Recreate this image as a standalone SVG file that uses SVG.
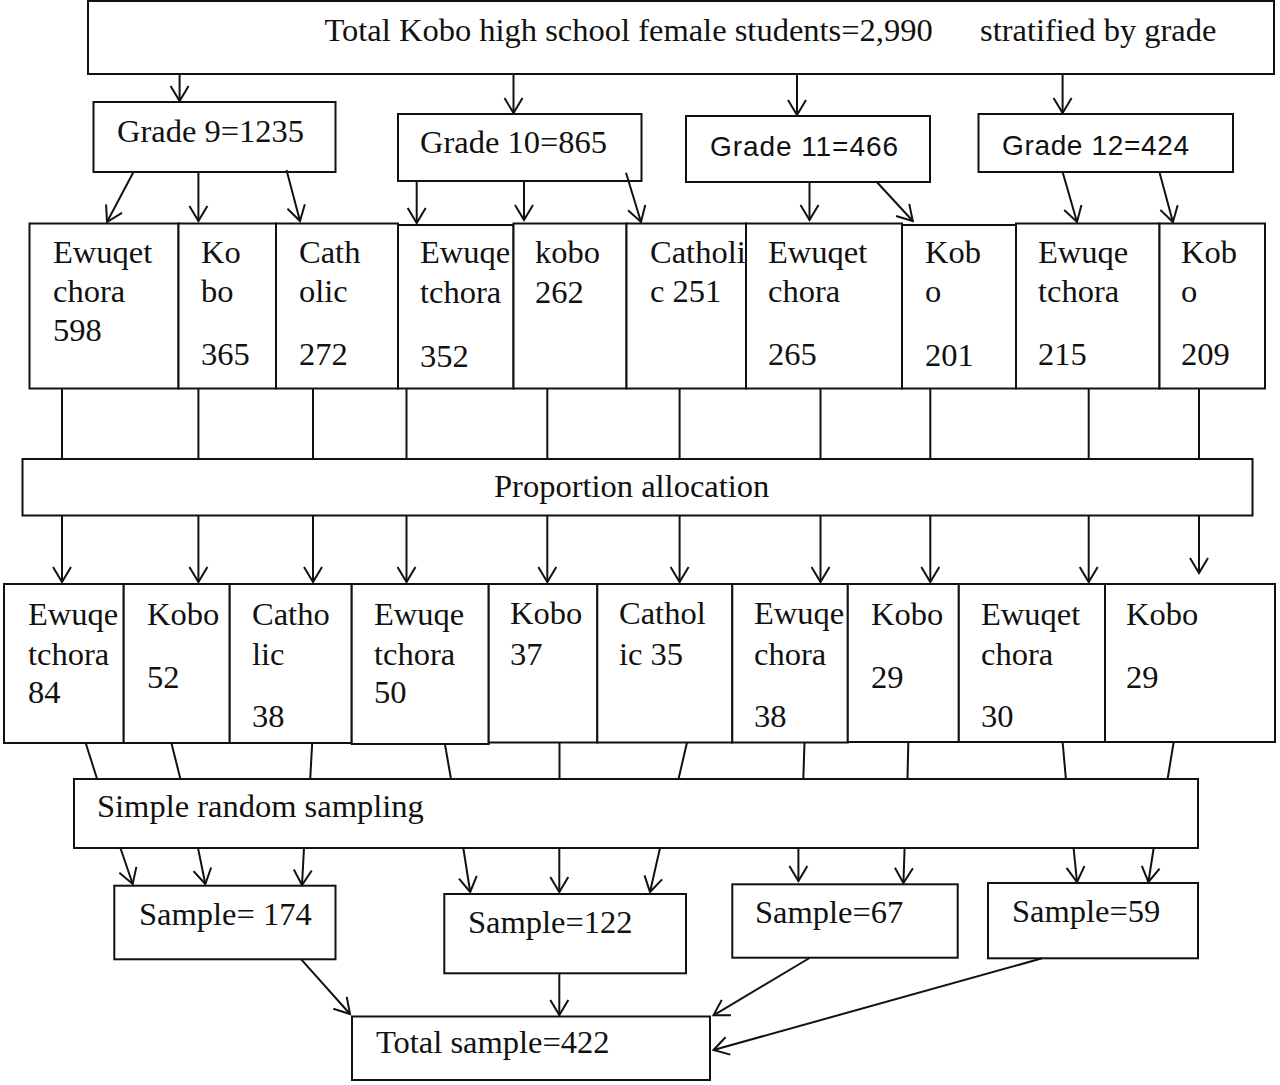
<svg xmlns="http://www.w3.org/2000/svg" width="1280" height="1085" viewBox="0 0 1280 1085">
<style>
.b{fill:#fff;stroke:#111;stroke-width:2}
.t{font-family:"Liberation Serif","Times New Roman",serif;font-size:32.5px;fill:#111}
.s{font-family:"Liberation Sans",Arial,sans-serif;font-size:28px;fill:#111}
.c line{stroke:#111;stroke-width:2;fill:none}
.a{marker-end:url(#ah)}
</style>
<defs>
<marker id="ah" viewBox="-2 -2 20 22" refX="15" refY="9" markerWidth="20" markerHeight="22" markerUnits="userSpaceOnUse" orient="auto">
<path d="M0,0 L15,9 L0,18" fill="none" stroke="#111" stroke-width="2"/>
</marker>
</defs>
<rect width="1280" height="1085" fill="#fff"/>

<g id="top"><rect class="b" x="88" y="1" width="1186" height="73"/>
<text class="t" y="41"><tspan x="324.5">Total Kobo high school female students=2,990</tspan><tspan x="980">stratified by grade</tspan></text></g>

<g id="g9"><rect class="b" x="93.5" y="102" width="242" height="70"/><text class="t" x="117" y="142">Grade 9=1235</text></g>
<g id="g10"><rect class="b" x="398" y="114" width="243.5" height="67"/><text class="t" x="420" y="153">Grade 10=865</text></g>
<g id="g11"><rect class="b" x="686" y="116" width="244" height="66"/><text class="s" x="710" y="156" textLength="188" lengthAdjust="spacing">Grade 11=466</text></g>
<g id="g12"><rect class="b" x="978.5" y="114" width="254.5" height="58"/><text class="s" x="1002" y="155" textLength="187" lengthAdjust="spacing">Grade 12=424</text></g>

<g id="s1"><rect class="b" x="29.5" y="223.5" width="149" height="165"/><text class="t"><tspan x="53" y="263">Ewuqet</tspan><tspan x="53" y="302">chora</tspan><tspan x="53" y="341">598</tspan></text></g>
<g id="s2"><rect class="b" x="178.5" y="223.5" width="97.5" height="165"/><text class="t"><tspan x="201" y="263">Ko</tspan><tspan x="201" y="302">bo</tspan><tspan x="201" y="365">365</tspan></text></g>
<g id="s3"><rect class="b" x="276" y="223.5" width="122" height="165"/><text class="t"><tspan x="299" y="263">Cath</tspan><tspan x="299" y="302">olic</tspan><tspan x="299" y="365">272</tspan></text></g>
<g id="s4"><rect class="b" x="398" y="225" width="115.5" height="163.5"/><text class="t"><tspan x="420" y="263">Ewuqe</tspan><tspan x="420" y="303">tchora</tspan><tspan x="420" y="367">352</tspan></text></g>
<g id="s5"><rect class="b" x="513.5" y="223.5" width="113" height="165"/><text class="t"><tspan x="535" y="263">kobo</tspan><tspan x="535" y="303">262</tspan></text></g>
<g id="s6"><rect class="b" x="626.5" y="223.5" width="119.5" height="165"/><text class="t"><tspan x="650" y="263">Catholi</tspan><tspan x="650" y="302">c 251</tspan></text></g>
<g id="s7"><rect class="b" x="746" y="223.5" width="156" height="165"/><text class="t"><tspan x="768" y="263">Ewuqet</tspan><tspan x="768" y="302">chora</tspan><tspan x="768" y="365">265</tspan></text></g>
<g id="s8"><rect class="b" x="902" y="225" width="114" height="163.5"/><text class="t"><tspan x="925" y="263">Kob</tspan><tspan x="925" y="302">o</tspan><tspan x="925" y="366">201</tspan></text></g>
<g id="s9"><rect class="b" x="1016" y="223.5" width="143.5" height="165"/><text class="t"><tspan x="1038" y="263">Ewuqe</tspan><tspan x="1038" y="302">tchora</tspan><tspan x="1038" y="365">215</tspan></text></g>
<g id="s10"><rect class="b" x="1159.5" y="223.5" width="105.5" height="165"/><text class="t"><tspan x="1181" y="263">Kob</tspan><tspan x="1181" y="302">o</tspan><tspan x="1181" y="365">209</tspan></text></g>

<g id="prop"><rect class="b" x="22.5" y="459" width="1230" height="56.5"/><text class="t" x="494" y="497">Proportion allocation</text></g>

<g id="p1"><rect class="b" x="4" y="584" width="119.7" height="159"/><text class="t"><tspan x="28" y="625">Ewuqe</tspan><tspan x="28" y="665">tchora</tspan><tspan x="28" y="703">84</tspan></text></g>
<g id="p2"><rect class="b" x="123.7" y="584" width="106" height="159"/><text class="t"><tspan x="147" y="625">Kobo</tspan><tspan x="147" y="688">52</tspan></text></g>
<g id="p3"><rect class="b" x="229.7" y="584" width="122" height="159"/><text class="t"><tspan x="252" y="625">Catho</tspan><tspan x="252" y="665">lic</tspan><tspan x="252" y="727">38</tspan></text></g>
<g id="p4"><rect class="b" x="351.7" y="584" width="137" height="160"/><text class="t"><tspan x="374" y="625">Ewuqe</tspan><tspan x="374" y="665">tchora</tspan><tspan x="374" y="703">50</tspan></text></g>
<g id="p5"><rect class="b" x="488.7" y="584" width="108.6" height="158.5"/><text class="t"><tspan x="510" y="624">Kobo</tspan><tspan x="510" y="665">37</tspan></text></g>
<g id="p6"><rect class="b" x="597.3" y="584" width="135" height="158.5"/><text class="t"><tspan x="619" y="624">Cathol</tspan><tspan x="619" y="665">ic 35</tspan></text></g>
<g id="p7"><rect class="b" x="732.3" y="584" width="115.5" height="158.5"/><text class="t"><tspan x="754" y="624">Ewuqe</tspan><tspan x="754" y="665">chora</tspan><tspan x="754" y="727">38</tspan></text></g>
<g id="p8"><rect class="b" x="847.8" y="584" width="111" height="158"/><text class="t"><tspan x="871" y="625">Kobo</tspan><tspan x="871" y="688">29</tspan></text></g>
<g id="p9"><rect class="b" x="958.8" y="584" width="146.2" height="158"/><text class="t"><tspan x="981" y="625">Ewuqet</tspan><tspan x="981" y="665">chora</tspan><tspan x="981" y="727">30</tspan></text></g>
<g id="p10"><rect class="b" x="1105" y="584" width="170" height="158"/><text class="t"><tspan x="1126" y="625">Kobo</tspan><tspan x="1126" y="688">29</tspan></text></g>

<g id="srs"><rect class="b" x="74" y="779" width="1124" height="69"/><text class="t" x="97" y="817">Simple random sampling</text></g>

<g id="sm1"><rect class="b" x="114.3" y="885.7" width="221.2" height="73.6"/><text class="t" x="139" y="925">Sample= 174</text></g>
<g id="sm2"><rect class="b" x="444.3" y="894" width="241.7" height="79.3"/><text class="t" x="468" y="933">Sample=122</text></g>
<g id="sm3"><rect class="b" x="732.3" y="884.3" width="225.4" height="73.4"/><text class="t" x="755" y="923">Sample=67</text></g>
<g id="sm4"><rect class="b" x="988" y="883" width="210" height="75.3"/><text class="t" x="1012" y="922">Sample=59</text></g>

<g id="total"><rect class="b" x="352" y="1016.5" width="358" height="63.5"/><text class="t" x="376" y="1053">Total sample=422</text></g>

<g id="connectors" class="c">
<line class="a" x1="179.6" y1="74" x2="179.6" y2="101"/>
<line class="a" x1="513.5" y1="74" x2="513.5" y2="113"/>
<line class="a" x1="797" y1="74" x2="797" y2="115"/>
<line class="a" x1="1062.6" y1="74" x2="1062.6" y2="113"/>

<line class="a" x1="133.5" y1="172" x2="107" y2="222"/>
<line class="a" x1="198.4" y1="172" x2="198.4" y2="221"/>
<line class="a" x1="286.5" y1="170" x2="300" y2="221"/>
<line class="a" x1="416.7" y1="181" x2="416.7" y2="223"/>
<line class="a" x1="524" y1="181" x2="524" y2="220"/>
<line class="a" x1="626" y1="172.7" x2="641" y2="222"/>
<line class="a" x1="809.5" y1="182" x2="809.5" y2="220"/>
<line class="a" x1="876.8" y1="182" x2="912.8" y2="221"/>
<line class="a" x1="1062.6" y1="172" x2="1077" y2="222"/>
<line class="a" x1="1159.4" y1="172" x2="1172.9" y2="222"/>

<line x1="62" y1="388.5" x2="62" y2="459"/>
<line x1="198.4" y1="388.5" x2="198.4" y2="459"/>
<line x1="313" y1="388.5" x2="313" y2="459"/>
<line x1="406.5" y1="388.5" x2="406.5" y2="459"/>
<line x1="547.3" y1="388.5" x2="547.3" y2="459"/>
<line x1="679.6" y1="388.5" x2="679.6" y2="459"/>
<line x1="820.5" y1="388.5" x2="820.5" y2="459"/>
<line x1="930.3" y1="388.5" x2="930.3" y2="459"/>
<line x1="1088.7" y1="388.5" x2="1088.7" y2="459"/>
<line x1="1199" y1="388.5" x2="1199" y2="459"/>

<line class="a" x1="62" y1="515.5" x2="62" y2="582"/>
<line class="a" x1="198.4" y1="515.5" x2="198.4" y2="582"/>
<line class="a" x1="313" y1="515.5" x2="313" y2="582"/>
<line class="a" x1="406.5" y1="515.5" x2="406.5" y2="582"/>
<line class="a" x1="547.3" y1="515.5" x2="547.3" y2="582"/>
<line class="a" x1="679.6" y1="515.5" x2="679.6" y2="582"/>
<line class="a" x1="820.5" y1="515.5" x2="820.5" y2="582"/>
<line class="a" x1="930.3" y1="515.5" x2="930.3" y2="582"/>
<line class="a" x1="1088.7" y1="515.5" x2="1088.7" y2="582"/>
<line class="a" x1="1199" y1="515.5" x2="1199" y2="573"/>

<line x1="85.7" y1="743" x2="97.1" y2="779"/>
<line x1="171.4" y1="743" x2="180.4" y2="779"/>
<line x1="312.2" y1="743" x2="310.2" y2="779"/>
<line x1="444.9" y1="744" x2="451" y2="779"/>
<line x1="559.5" y1="742.5" x2="559.5" y2="779"/>
<line x1="687" y1="742.5" x2="678.5" y2="779"/>
<line x1="804.5" y1="742.5" x2="803.3" y2="779"/>
<line x1="908.3" y1="742" x2="907.5" y2="779"/>
<line x1="1062.6" y1="742" x2="1065.9" y2="779"/>
<line x1="1173.7" y1="742" x2="1167.6" y2="779"/>

<line class="a" x1="120.4" y1="848" x2="132.7" y2="884"/>
<line class="a" x1="198" y1="848" x2="205.3" y2="884"/>
<line class="a" x1="304" y1="848" x2="302" y2="885"/>
<line class="a" x1="463.3" y1="848" x2="470.2" y2="892"/>
<line class="a" x1="559.3" y1="848" x2="559.3" y2="892"/>
<line class="a" x1="660" y1="848" x2="650" y2="892"/>
<line class="a" x1="798.4" y1="848" x2="798.4" y2="881"/>
<line class="a" x1="904.6" y1="848" x2="903.4" y2="883"/>
<line class="a" x1="1073.6" y1="848" x2="1077" y2="882"/>
<line class="a" x1="1153.7" y1="848" x2="1148.4" y2="882"/>

<line class="a" x1="301.2" y1="959.3" x2="350" y2="1014"/>
<line class="a" x1="559.3" y1="973.3" x2="559.3" y2="1015"/>
<line class="a" x1="809.5" y1="958" x2="713.5" y2="1015.3"/>
<line class="a" x1="1042.2" y1="958.3" x2="713.5" y2="1050"/>
</g>
</svg>
